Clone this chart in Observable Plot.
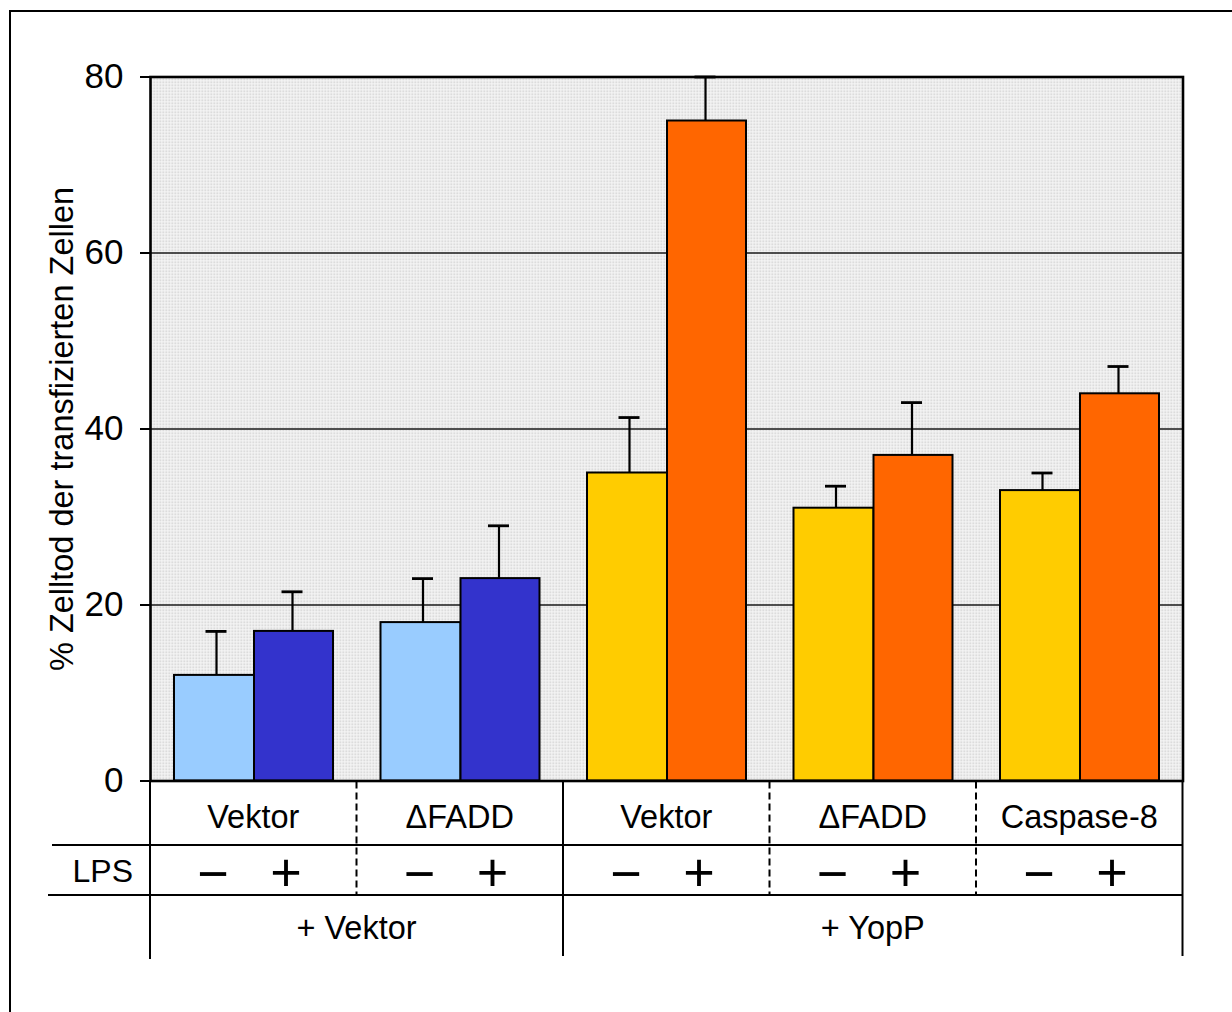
<!DOCTYPE html>
<html>
<head>
<meta charset="utf-8">
<script src="https://cdn.jsdelivr.net/npm/d3@7"></script>
<script src="https://cdn.jsdelivr.net/npm/@observablehq/plot@0.6"></script>
<style>
  html, body { margin: 0; padding: 0; background: #fff; }
  body { width: 1232px; height: 1012px; position: relative; overflow: hidden; font-family: "Liberation Sans", Arial, sans-serif; }
  #outer { position: absolute; left: 9px; top: 10px; width: 1400px; height: 1200px; border-left: 2.5px solid #000; border-top: 2.5px solid #000; }
  #chart { position: absolute; left: 0; top: 0; }
  #table { position: absolute; left: 0; top: 0; width: 1232px; height: 1012px; }
  .lbl { position: absolute; transform: translate(-50%, -50%); line-height: 1; white-space: nowrap; color: #000; }
</style>
</head>
<body>
<div id="outer"></div>
<div id="chart"></div>
<div id="table"></div>
<script>
// ---- data ----
const groups = ["g1", "g2", "g3", "g4", "g5"];
const groupLabels = ["Vektor", "ΔFADD", "Vektor", "ΔFADD", "Caspase-8"];
const groupTreatment = ["+ Vektor", "+ Vektor", "+ YopP", "+ YopP", "+ YopP"];
const treatments = ["+ Vektor", "+ YopP"];
const lpsLevels = ["−", "+"];
const meanMinus = [12, 18, 35, 31, 33];
const meanPlus = [17, 23, 75, 37, 44];
const errMinus = [17, 23, 41.3, 33.5, 35];
const errPlus = [21.5, 29, 80, 43, 47.1];
const yTicks = [0, 20, 40, 60, 80];
const yTitle = "% Zelltod der transfizierten Zellen";
const rowLabel = "LPS";

// ---- build table ----
const rows = [];
groups.forEach((g, i) => {
  rows.push({group: g, lps: lpsLevels[0], treatment: groupTreatment[i], mean: meanMinus[i], err: errMinus[i], key: groupTreatment[i] + "|" + lpsLevels[0]});
  rows.push({group: g, lps: lpsLevels[1], treatment: groupTreatment[i], mean: meanPlus[i], err: errPlus[i], key: groupTreatment[i] + "|" + lpsLevels[1]});
});
const minusRows = rows.filter(d => d.lps === lpsLevels[0]);
const plusRows = rows.filter(d => d.lps === lpsLevels[1]);

const FONT = "'Liberation Sans', Arial, sans-serif";
const W = 1232, ML = 150, MR = 49.5;
const step = (W - ML - MR) / groups.length;
// bar geometry inside each group band (pixels)
const mL = 24, mR = 104, pL = 104, pR = 183;
const cMinus = 66, cPlus = 142, capHalf = 10.5;

const plot = Plot.plot({
  width: W, height: 800,
  marginLeft: ML, marginRight: MR, marginTop: 76.5, marginBottom: 19.5,
  style: {fontFamily: FONT, background: "transparent", overflow: "visible", color: "#000"},
  x: {domain: groups, axis: null, padding: 0, round: false},
  y: {domain: [0, 80]},
  color: {
    domain: [treatments[0] + "|" + lpsLevels[0], treatments[0] + "|" + lpsLevels[1], treatments[1] + "|" + lpsLevels[0], treatments[1] + "|" + lpsLevels[1]],
    range: ["#99CCFF", "#3333CC", "#FFCC00", "#FF6600"]
  },
  marks: [
    Plot.frame({fill: "url(#dots)"}),
    Plot.ruleY(yTicks.filter(t => t > 0 && t < 80), {stroke: "#1a1a1a", strokeWidth: 1.6}),
    Plot.barY(minusRows, {x: "group", y: "mean", fill: "key", stroke: "#000", strokeWidth: 2, insetLeft: mL, insetRight: step - mR}),
    Plot.barY(plusRows, {x: "group", y: "mean", fill: "key", stroke: "#000", strokeWidth: 2, insetLeft: pL, insetRight: step - pR}),
    Plot.ruleX(minusRows, {x: "group", y1: "mean", y2: "err", dx: cMinus - step / 2, stroke: "#000", strokeWidth: 2.2}),
    Plot.ruleX(plusRows, {x: "group", y1: "mean", y2: "err", dx: cPlus - step / 2, stroke: "#000", strokeWidth: 2.2}),
    Plot.tickY(minusRows, {x: "group", y: "err", insetLeft: cMinus - capHalf, insetRight: step - cMinus - capHalf, stroke: "#000", strokeWidth: 2.8}),
    Plot.tickY(plusRows, {x: "group", y: "err", insetLeft: cPlus - capHalf, insetRight: step - cPlus - capHalf, stroke: "#000", strokeWidth: 2.8}),
    Plot.frame({stroke: "#000", strokeWidth: 2.6}),
    Plot.axisY({ticks: yTicks, tickSize: 10, tickPadding: 17, fontSize: 35, label: null, tickFormat: d => String(d), strokeWidth: 2}),
    Plot.text([yTitle], {text: d => d, frameAnchor: "left", textAnchor: "middle", rotate: -90, dx: -88, fontSize: 32.5, fill: "#000"})
  ]
});

// dotted background pattern
const ns = "http://www.w3.org/2000/svg";
const defs = document.createElementNS(ns, "defs");
const pat = document.createElementNS(ns, "pattern");
pat.setAttribute("id", "dots");
pat.setAttribute("patternUnits", "userSpaceOnUse");
pat.setAttribute("width", "3");
pat.setAttribute("height", "3");
const pbg = document.createElementNS(ns, "rect");
pbg.setAttribute("width", "3"); pbg.setAttribute("height", "3"); pbg.setAttribute("fill", "#f6f6f6");
const pdot = document.createElementNS(ns, "rect");
pdot.setAttribute("width", "1.5"); pdot.setAttribute("height", "1.5"); pdot.setAttribute("fill", "#c8c8c8");
pat.appendChild(pbg); pat.appendChild(pdot); defs.appendChild(pat);
plot.insertBefore(defs, plot.firstChild);
document.getElementById("chart").appendChild(plot);

// ---- category table below the chart, aligned to the x scale ----
const xs = plot.scale("x");
const bw = xs.bandwidth;
const starts = groups.map(g => xs.apply(g));
const left = starts[0], right = starts[starts.length - 1] + bw;
const y0 = 780.5, yLine1 = 845, yLine2 = 895, yEnd = 956;
const table = document.getElementById("table");

const svg = document.createElementNS(ns, "svg");
svg.setAttribute("width", W); svg.setAttribute("height", 1012);
svg.style.position = "absolute"; svg.style.left = "0"; svg.style.top = "0";
function line(x1, y1, x2, y2, dash) {
  const l = document.createElementNS(ns, "line");
  l.setAttribute("x1", x1); l.setAttribute("y1", y1); l.setAttribute("x2", x2); l.setAttribute("y2", y2);
  l.setAttribute("stroke", "#000"); l.setAttribute("stroke-width", 2);
  if (dash) l.setAttribute("stroke-dasharray", "7,4");
  svg.appendChild(l);
}
line(52, yLine1, right, yLine1);
line(48, yLine2, right, yLine2);
line(left, y0, left, yEnd + 3);
line(right, y0, right, yEnd);
// treatment boundary (solid) and within-treatment boundaries (dashed)
for (let i = 1; i < groups.length; i++) {
  const x = starts[i];
  if (groupTreatment[i] !== groupTreatment[i - 1]) line(x, y0, x, yEnd);
  else line(x, y0 + 1, x, yLine2, true);
}
table.appendChild(svg);

function label(text, x, y, size) {
  const d = document.createElement("div");
  d.className = "lbl";
  d.textContent = text;
  d.style.left = x + "px"; d.style.top = y + "px"; d.style.fontSize = size + "px";
  table.appendChild(d);
  return d;
}
groups.forEach((g, i) => {
  label(groupLabels[i], starts[i] + bw / 2, 817, 32.5);
  label(lpsLevels[0], starts[i] + 63, 873, 54);
  label(lpsLevels[1], starts[i] + 136, 872, 54);
});
const lpsDiv = label(rowLabel, 0, 871, 32);
lpsDiv.style.left = "133px"; lpsDiv.style.transform = "translate(-100%, -50%)";
treatments.forEach(t => {
  const idx = groups.map((g, i) => i).filter(i => groupTreatment[i] === t);
  const a = starts[idx[0]], b = starts[idx[idx.length - 1]] + bw;
  label(t, (a + b) / 2, 928, 32.5);
});
</script>
</body>
</html>
